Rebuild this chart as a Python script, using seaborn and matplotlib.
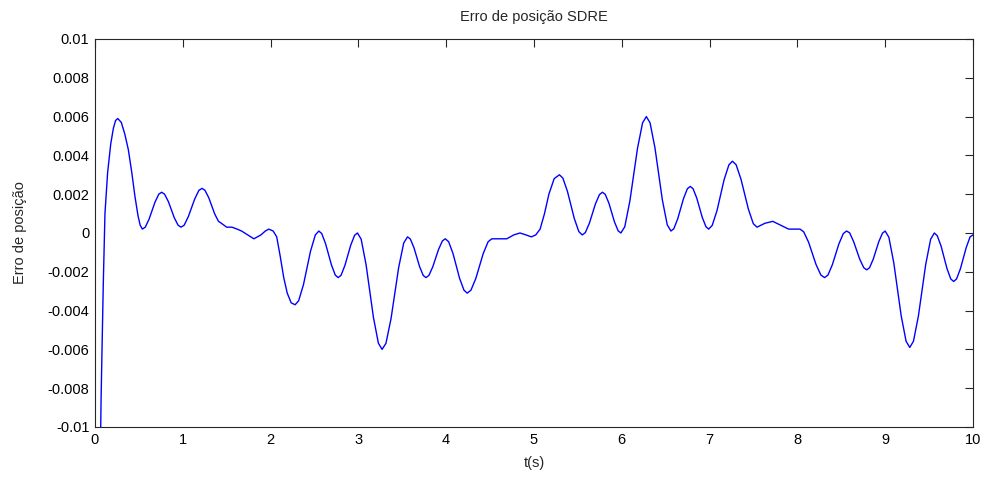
import matplotlib
matplotlib.use('Agg')
import matplotlib.pyplot as plt
import seaborn as sns
import pandas as pd

# pontos (t em s, erro de posicao), um trecho por linha
t = [0.0, 0.06, 0.07, 0.085, 0.095, 0.114, 0.144, 0.18, 0.21, 0.235, 0.26,
     0.30, 0.34, 0.38, 0.42, 0.455, 0.49, 0.515, 0.54,
     0.573, 0.617, 0.65, 0.683, 0.727, 0.76,
     0.793, 0.837, 0.87, 0.903, 0.947, 0.98,
     1.016, 1.064, 1.10, 1.136, 1.184, 1.22,
     1.253, 1.297, 1.33, 1.363, 1.407, 1.44,
     1.50, 1.56, 1.62, 1.67, 1.74, 1.81, 1.89, 1.94, 1.98,
     2.03, 2.07, 2.11, 2.15, 2.19, 2.235, 2.28,
     2.32, 2.375, 2.415, 2.455, 2.51, 2.55,
     2.583, 2.627, 2.66, 2.693, 2.737, 2.77,
     2.803, 2.847, 2.88, 2.913, 2.957, 2.99,
     3.032, 3.088, 3.13, 3.172, 3.228, 3.27,
     3.314, 3.372, 3.415, 3.459, 3.517, 3.56,
     3.592, 3.634, 3.665, 3.697, 3.739, 3.77,
     3.803, 3.847, 3.88, 3.913, 3.957, 3.99,
     4.028, 4.078, 4.115, 4.153, 4.203, 4.24,
     4.282, 4.338, 4.38, 4.422, 4.478, 4.52,
     4.60, 4.69, 4.77, 4.84, 4.91, 4.97,
     5.02, 5.07, 5.12, 5.17, 5.23, 5.29,
     5.329, 5.381, 5.42, 5.459, 5.511, 5.55,
     5.585, 5.631, 5.665, 5.70, 5.746, 5.78,
     5.812, 5.854, 5.885, 5.917, 5.959, 5.99,
     6.034, 6.092, 6.135, 6.179, 6.237, 6.28,
     6.322, 6.378, 6.42, 6.462, 6.518, 6.56,
     6.593, 6.637, 6.67, 6.703, 6.747, 6.78,
     6.812, 6.854, 6.885, 6.917, 6.959, 6.99,
     7.03, 7.085, 7.125, 7.165, 7.22, 7.26,
     7.302, 7.358, 7.40, 7.442, 7.498, 7.54,
     7.63, 7.72, 7.81, 7.90, 7.97, 8.03,
     8.072, 8.128, 8.17, 8.212, 8.268, 8.31,
     8.348, 8.398, 8.435, 8.473, 8.523, 8.56,
     8.595, 8.641, 8.675, 8.71, 8.756, 8.79,
     8.822, 8.864, 8.895, 8.927, 8.969, 9.0,
     9.042, 9.098, 9.14, 9.182, 9.238, 9.28,
     9.322, 9.378, 9.42, 9.462, 9.518, 9.56,
     9.593, 9.637, 9.67, 9.703, 9.747, 9.78,
     9.813, 9.857, 9.89, 9.923, 9.967, 10.0]
erro = [-0.05, -0.012, -0.0085, -0.005, -0.0026, 0.001, 0.0031, 0.0046, 0.0054, 0.0058, 0.0059,
        0.0057, 0.0051, 0.0043, 0.0031, 0.0019, 0.0009, 0.0004, 0.0002,
        0.0003, 0.00072, 0.00115, 0.00158, 0.0020, 0.0021,
        0.0020, 0.00161, 0.0012, 0.00079, 0.0004, 0.0003,
        0.0004, 0.00085, 0.0013, 0.00175, 0.0022, 0.0023,
        0.0022, 0.00181, 0.0014, 0.00099, 0.0006, 0.0005,
        0.0003, 0.0003, 0.0002, 0.0001, -0.0001, -0.0003, -0.0001, 0.0001, 0.0002,
        0.0001, -0.0002, -0.0012, -0.0023, -0.0031, -0.0036, -0.0037,
        -0.00349, -0.00266, -0.0018, -0.00094, -0.0001, 0.0001,
        -0.00003, -0.00056, -0.0011, -0.00164, -0.00217, -0.0023,
        -0.00218, -0.00167, -0.00115, -0.00063, -0.00012, 0.0,
        -0.00032, -0.00164, -0.003, -0.00436, -0.00568, -0.006,
        -0.00569, -0.00442, -0.0031, -0.00178, -0.00051, -0.0002,
        -0.00031, -0.00077, -0.00125, -0.00173, -0.00219, -0.0023,
        -0.00219, -0.00175, -0.0013, -0.00085, -0.00041, -0.0003,
        -0.00045, -0.00106, -0.0017, -0.00234, -0.00295, -0.0031,
        -0.00295, -0.00234, -0.0017, -0.00106, -0.00045, -0.0003,
        -0.0003, -0.0003, -0.0001, 0.0, -0.0001, -0.0002,
        -0.0001, 0.0002, 0.0010, 0.0020, 0.0028, 0.003,
        0.00283, 0.00215, 0.00145, 0.00075, 0.00007, -0.0001,
        0.00002, 0.0005, 0.001, 0.0015, 0.00198, 0.0021,
        0.00199, 0.00153, 0.00105, 0.00057, 0.00011, 0.0,
        0.00032, 0.00164, 0.003, 0.00436, 0.00568, 0.006,
        0.00568, 0.00439, 0.00305, 0.00171, 0.00042, 0.0001,
        0.00022, 0.00073, 0.00125, 0.00177, 0.00228, 0.0024,
        0.00228, 0.0018, 0.0013, 0.0008, 0.00032, 0.0002,
        0.00039, 0.00116, 0.00195, 0.00274, 0.00351, 0.0037,
        0.00352, 0.00277, 0.002, 0.00123, 0.00048, 0.0003,
        0.0005, 0.0006, 0.0004, 0.0002, 0.0002, 0.0002,
        0.00006, -0.00048, -0.00105, -0.00162, -0.00217, -0.0023,
        -0.00217, -0.00164, -0.0011, -0.00056, -0.00003, 0.0001,
        0.00001, -0.00045, -0.0009, -0.00135, -0.00179, -0.0019,
        -0.00179, -0.00135, -0.0009, -0.00045, -0.00001, 0.0001,
        -0.00022, -0.00154, -0.0029, -0.00426, -0.00558, -0.0059,
        -0.00558, -0.00429, -0.00295, -0.00161, -0.00032, 0.0,
        -0.00014, -0.00068, -0.00125, -0.00182, -0.00237, -0.0025,
        -0.00237, -0.00184, -0.0013, -0.00075, -0.0002, -0.0001]

x_ticks = [0, 1, 2, 3, 4, 5, 6, 7, 8, 9, 10]
y_ticks = [-0.01, -0.008, -0.006, -0.004, -0.002, 0, 0.002, 0.004, 0.006, 0.008, 0.01]
y_ticklabels = ['-0.01', '-0.008', '-0.006', '-0.004', '-0.002', '0', '0.002', '0.004', '0.006', '0.008', '0.01']

df = pd.DataFrame({'t': t, 'erro': erro})

sns.set_theme(style='white')
plt.rcParams['font.family'] = ['Liberation Sans', 'DejaVu Sans']

fig = plt.figure(figsize=(9.86, 4.79), dpi=100)
ax = fig.add_axes([0.0963, 0.1086, 0.8905, 0.81])

sns.lineplot(data=df, x='t', y='erro', ax=ax, color='#0000ff', linewidth=1.0, sort=False)

ax.set_xlim(0, 10)
ax.set_ylim(-0.01, 0.01)
ax.set_xticks(x_ticks)
ax.set_xticklabels([str(v) for v in x_ticks])
ax.set_yticks(y_ticks)
ax.set_yticklabels(y_ticklabels)
ax.tick_params(direction='in', length=6, width=0.8, colors='#262626', labelcolor='black',
               labelsize=10.5, top=True, right=True, pad=4)
for s in ax.spines.values():
    s.set_color('#262626')
    s.set_linewidth(0.8)

ax.set_title('Erro de posição SDRE', fontsize=10.5, pad=13)
ax.set_xlabel('t(s)', fontsize=10.5, labelpad=7)
ax.set_ylabel('Erro de posição', fontsize=10.5, labelpad=15)

fig.savefig('out.png', dpi=100, facecolor='white')
